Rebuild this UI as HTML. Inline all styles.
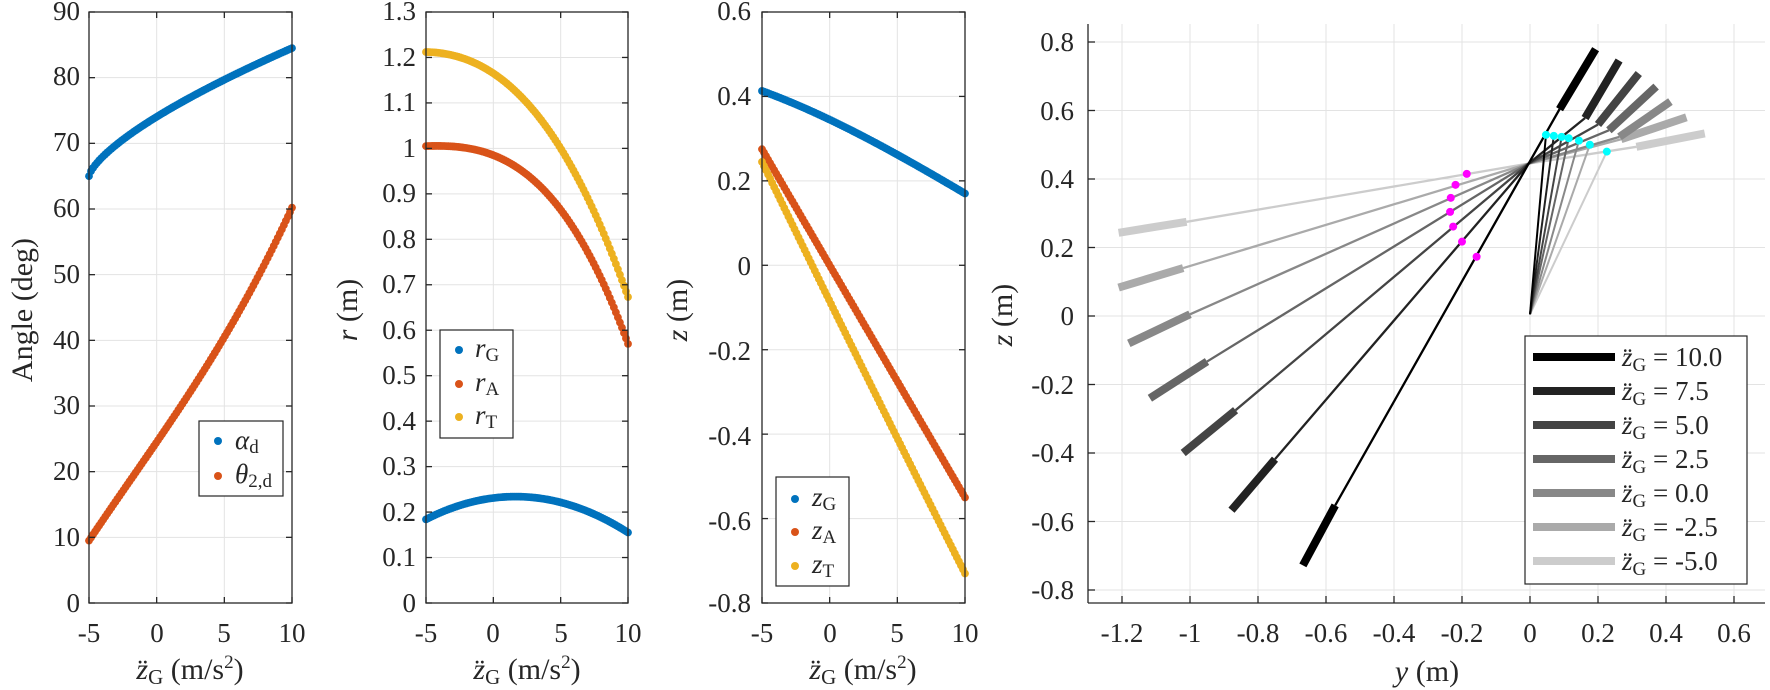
<!DOCTYPE html>
<html><head><meta charset="utf-8"><style>
html,body{margin:0;padding:0;background:#fff;}
svg{display:block;}
svg text{font-family:"Liberation Serif","Times New Roman","Nimbus Roman","DejaVu Serif",serif;}
</style></head><body>
<svg id="s" width="1770" height="690" viewBox="0 0 1770 690" xmlns="http://www.w3.org/2000/svg">
<g id="grid"></g>
<g id="data"></g>
<g id="axes" fill="none" stroke="#262626" stroke-width="1.3"></g>
<g font-size="27" fill="#262626">
<g text-anchor="end">
<text x="80" y="20">90</text><text x="80" y="85">80</text><text x="80" y="151">70</text><text x="80" y="217">60</text><text x="80" y="283">50</text><text x="80" y="349">40</text><text x="80" y="414">30</text><text x="80" y="480">20</text><text x="80" y="546">10</text><text x="80" y="612">0</text>
<text x="416" y="20">1.3</text><text x="416" y="66">1.2</text><text x="416" y="111">1.1</text><text x="416" y="157">1</text><text x="416" y="202">0.9</text><text x="416" y="248">0.8</text><text x="416" y="293">0.7</text><text x="416" y="339">0.6</text><text x="416" y="384">0.5</text><text x="416" y="430">0.4</text><text x="416" y="475">0.3</text><text x="416" y="521">0.2</text><text x="416" y="566">0.1</text><text x="416" y="612">0</text>
<text x="751" y="20">0.6</text><text x="751" y="105">0.4</text><text x="751" y="190">0.2</text><text x="751" y="275">0</text><text x="751" y="360">-0.2</text><text x="751" y="445">-0.4</text><text x="751" y="530">-0.6</text><text x="751" y="612">-0.8</text>
<text x="1074" y="51">0.8</text><text x="1074" y="120">0.6</text><text x="1074" y="188">0.4</text><text x="1074" y="257">0.2</text><text x="1074" y="325">0</text><text x="1074" y="394">-0.2</text><text x="1074" y="462">-0.4</text><text x="1074" y="531">-0.6</text><text x="1074" y="599">-0.8</text>
</g>
<g text-anchor="middle">
<text x="89" y="642">-5</text><text x="157" y="642">0</text><text x="224" y="642">5</text><text x="292" y="642">10</text>
<text x="426" y="642">-5</text><text x="493" y="642">0</text><text x="561" y="642">5</text><text x="628" y="642">10</text>
<text x="762" y="642">-5</text><text x="830" y="642">0</text><text x="897" y="642">5</text><text x="965" y="642">10</text>
<text x="1122" y="642">-1.2</text><text x="1190" y="642">-1</text><text x="1258" y="642">-0.8</text><text x="1326" y="642">-0.6</text><text x="1394" y="642">-0.4</text><text x="1462" y="642">-0.2</text><text x="1530" y="642">0</text><text x="1598" y="642">0.2</text><text x="1666" y="642">0.4</text><text x="1734" y="642">0.6</text>
</g>
<g font-size="30" text-anchor="middle">
<text x="190" y="679"><tspan font-style="italic">z̈</tspan><tspan font-size="21" dy="5">G</tspan><tspan dy="-5"> (m/s</tspan><tspan font-size="19" dy="-11">2</tspan><tspan dy="11">)</tspan></text>
<text x="527" y="679"><tspan font-style="italic">z̈</tspan><tspan font-size="21" dy="5">G</tspan><tspan dy="-5"> (m/s</tspan><tspan font-size="19" dy="-11">2</tspan><tspan dy="11">)</tspan></text>
<text x="863" y="679"><tspan font-style="italic">z̈</tspan><tspan font-size="21" dy="5">G</tspan><tspan dy="-5"> (m/s</tspan><tspan font-size="19" dy="-11">2</tspan><tspan dy="11">)</tspan></text>
<text x="1427" y="681"><tspan font-style="italic">y</tspan> (m)</text>
<text transform="translate(32,310) rotate(-90)">Angle (deg)</text>
<text transform="translate(357,310) rotate(-90)"><tspan font-style="italic">r</tspan> (m)</text>
<text transform="translate(687,310) rotate(-90)"><tspan font-style="italic">z</tspan> (m)</text>
<text transform="translate(1012,315) rotate(-90)"><tspan font-style="italic">z</tspan> (m)</text>
</g>
<g fill="#fff" stroke="#262626" stroke-width="1.2">
<rect x="199" y="421" width="84" height="75"/>
<rect x="440" y="330" width="73" height="108"/>
<rect x="776" y="477" width="73" height="109"/>
<rect x="1525" y="336" width="222" height="248"/>
</g>
<circle cx="218" cy="441" r="4" fill="#0072BD"/><circle cx="218" cy="476" r="4" fill="#D95319"/>
<text x="235" y="449"><tspan font-style="italic">α</tspan><tspan font-size="19" dy="4">d</tspan></text>
<text x="235" y="483"><tspan font-style="italic">θ</tspan><tspan font-size="19" dy="4">2,d</tspan></text>
<circle cx="459" cy="350" r="4" fill="#0072BD"/><circle cx="459" cy="384" r="4" fill="#D95319"/><circle cx="459" cy="417" r="4" fill="#EDB120"/>
<text x="475" y="357"><tspan font-style="italic">r</tspan><tspan font-size="19" dy="4">G</tspan></text>
<text x="475" y="391"><tspan font-style="italic">r</tspan><tspan font-size="19" dy="4">A</tspan></text>
<text x="475" y="424"><tspan font-style="italic">r</tspan><tspan font-size="19" dy="4">T</tspan></text>
<circle cx="795" cy="499" r="4" fill="#0072BD"/><circle cx="795" cy="532" r="4" fill="#D95319"/><circle cx="795" cy="566" r="4" fill="#EDB120"/>
<text x="812" y="506"><tspan font-style="italic">z</tspan><tspan font-size="19" dy="4">G</tspan></text>
<text x="812" y="539"><tspan font-style="italic">z</tspan><tspan font-size="19" dy="4">A</tspan></text>
<text x="812" y="573"><tspan font-style="italic">z</tspan><tspan font-size="19" dy="4">T</tspan></text>
<g id="leg4"></g>
<g>
<text x="1622" y="366"><tspan font-style="italic">z̈</tspan><tspan font-size="19" dy="5">G</tspan><tspan dy="-5"> = 10.0</tspan></text>
<text x="1622" y="400"><tspan font-style="italic">z̈</tspan><tspan font-size="19" dy="5">G</tspan><tspan dy="-5"> = 7.5</tspan></text>
<text x="1622" y="434"><tspan font-style="italic">z̈</tspan><tspan font-size="19" dy="5">G</tspan><tspan dy="-5"> = 5.0</tspan></text>
<text x="1622" y="468"><tspan font-style="italic">z̈</tspan><tspan font-size="19" dy="5">G</tspan><tspan dy="-5"> = 2.5</tspan></text>
<text x="1622" y="502"><tspan font-style="italic">z̈</tspan><tspan font-size="19" dy="5">G</tspan><tspan dy="-5"> = 0.0</tspan></text>
<text x="1622" y="536"><tspan font-style="italic">z̈</tspan><tspan font-size="19" dy="5">G</tspan><tspan dy="-5"> = -2.5</tspan></text>
<text x="1622" y="570"><tspan font-style="italic">z̈</tspan><tspan font-size="19" dy="5">G</tspan><tspan dy="-5"> = -5.0</tspan></text>
</g>
</g>
</svg>
<script>
var NS="http://www.w3.org/2000/svg";
function el(p,t,a){var e=document.createElementNS(NS,t);for(var k in a)e.setAttribute(k,a[k]);document.getElementById(p).appendChild(e);return e;}
var TOP=12,BOT=603;
function panel(x0,x1,ymin,ymax,ystep){
  var P={x:function(v){return x0+(v+5)/15*(x1-x0);},y:function(v){return BOT-(v-ymin)/(ymax-ymin)*(BOT-TOP);}};
  for(var v=-5;v<=10;v+=5){var X=P.x(v);if(v>-5&&v<10)el("grid","line",{x1:X,x2:X,y1:TOP,y2:BOT,stroke:"#e3e3e3","stroke-width":1});
    el("axes","line",{x1:X,x2:X,y1:BOT,y2:BOT-6});el("axes","line",{x1:X,x2:X,y1:TOP,y2:TOP+6});}
  var n=Math.round((ymax-ymin)/ystep);
  for(var i=0;i<=n;i++){var Y=P.y(ymin+i*ystep);if(i>0&&i<n)el("grid","line",{x1:x0,x2:x1,y1:Y,y2:Y,stroke:"#e3e3e3","stroke-width":1});
    el("axes","line",{x1:x0,x2:x0+6,y1:Y,y2:Y});el("axes","line",{x1:x1,x2:x1-6,y1:Y,y2:Y});}
  el("axes","rect",{x:x0,y:TOP,width:x1-x0,height:BOT-TOP});
  return P;
}
function lag(xs,ys){return function(x){var s=0;for(var i=0;i<xs.length;i++){var t=ys[i];for(var j=0;j<xs.length;j++)if(j!=i)t*=(x-xs[j])/(xs[i]-xs[j]);s+=t;}return s;};}
function dots(P,f,c){for(var i=0;i<=100;i++){var x=-5+15*i/100;el("data","circle",{cx:P.x(x),cy:P.y(f(x)),r:3.9,fill:c});}}
var X4=[-5,0,5,10];
var p1=panel(89,292,0,90,10);
dots(p1,function(x){return 65+19.5*Math.pow((x+5)/15,0.7);},"#0072BD");
dots(p1,lag(X4,[9.5,24.5,40.5,60.2]),"#D95319");
var p2=panel(426,628,0,1.3,0.1);
dots(p2,lag([-5,1.5,10],[0.184,0.234,0.155]),"#0072BD");
dots(p2,lag(X4,[1.005,0.985,0.865,0.57]),"#D95319");
dots(p2,lag(X4,[1.212,1.165,1.0,0.673]),"#EDB120");
var p3=panel(762,965,-0.8,0.6,0.2);
dots(p3,lag(X4,[0.413,0.345,0.262,0.17]),"#0072BD");
dots(p3,lag(X4,[0.275,0.0,-0.275,-0.55]),"#D95319");
dots(p3,lag(X4,[0.245,-0.085,-0.41,-0.73]),"#EDB120");
var L=1088,R=1765,T4=24;
function px(y){return 1530+340*y;} function pz(z){return 316-342.5*z;}
for(var i=-6;i<=3;i++){var X=px(i*0.2);el("grid","line",{x1:X,x2:X,y1:T4,y2:BOT,stroke:"#e3e3e3","stroke-width":1});el("axes","line",{x1:X,x2:X,y1:BOT,y2:BOT-7});}
for(var i=-4;i<=4;i++){var Y=pz(i*0.2);el("grid","line",{x1:L,x2:R,y1:Y,y2:Y,stroke:"#e3e3e3","stroke-width":1});el("axes","line",{x1:L,x2:L+7,y1:Y,y2:Y});}
el("axes","line",{x1:L,x2:L,y1:T4,y2:BOT});el("axes","line",{x1:L,x2:R,y1:BOT,y2:BOT});
var cols=["#000000","#222222","#444444","#666666","#888888","#aaaaaa","#cccccc"];
var S=[
[[-0.668,-0.728],[-0.573,-0.553],[0.087,0.604],[0.193,0.779],[-0.157,0.173],[0.047,0.529]],
[[-0.878,-0.567],[-0.75,-0.418],[0.162,0.578],[0.262,0.746],[-0.2,0.217],[0.07,0.526]],
[[-1.02,-0.40],[-0.866,-0.275],[0.2,0.559],[0.32,0.708],[-0.226,0.261],[0.093,0.523]],
[[-1.118,-0.24],[-0.95,-0.133],[0.232,0.542],[0.371,0.67],[-0.235,0.304],[0.114,0.519]],
[[-1.18,-0.08],[-1.0,0.005],[0.263,0.523],[0.413,0.626],[-0.233,0.345],[0.144,0.512]],
[[-1.21,0.083],[-1.02,0.14],[0.268,0.516],[0.46,0.58],[-0.219,0.383],[0.176,0.5]],
[[-1.21,0.243],[-1.01,0.275],[0.313,0.494],[0.514,0.533],[-0.186,0.415],[0.226,0.48]]];
var PV=[-0.004,0.445];
for(var k=6;k>=0;k--){var s=S[k],c=cols[k];
  el("data","line",{x1:px(0),y1:pz(0.005),x2:px(s[5][0]),y2:pz(s[5][1]),stroke:c,"stroke-width":2});
  el("data","polyline",{points:px(s[1][0])+","+pz(s[1][1])+" "+px(PV[0])+","+pz(PV[1])+" "+px(s[2][0])+","+pz(s[2][1]),fill:"none",stroke:c,"stroke-width":2.3});
  el("data","line",{x1:px(s[0][0]),y1:pz(s[0][1]),x2:px(s[1][0]),y2:pz(s[1][1]),stroke:c,"stroke-width":8});
  el("data","line",{x1:px(s[2][0]),y1:pz(s[2][1]),x2:px(s[3][0]),y2:pz(s[3][1]),stroke:c,"stroke-width":8});
}
for(var k=0;k<7;k++){var s=S[k];
  el("data","circle",{cx:px(s[4][0]),cy:pz(s[4][1]),r:4,fill:"#ff00ff"});
  el("data","circle",{cx:px(s[5][0]),cy:pz(s[5][1]),r:4,fill:"#00ffff"});}
for(var k=0;k<7;k++){var y=357+k*34;el("leg4","line",{x1:1533,x2:1615,y1:y,y2:y,stroke:cols[k],"stroke-width":8});}
</script>
</body></html>
